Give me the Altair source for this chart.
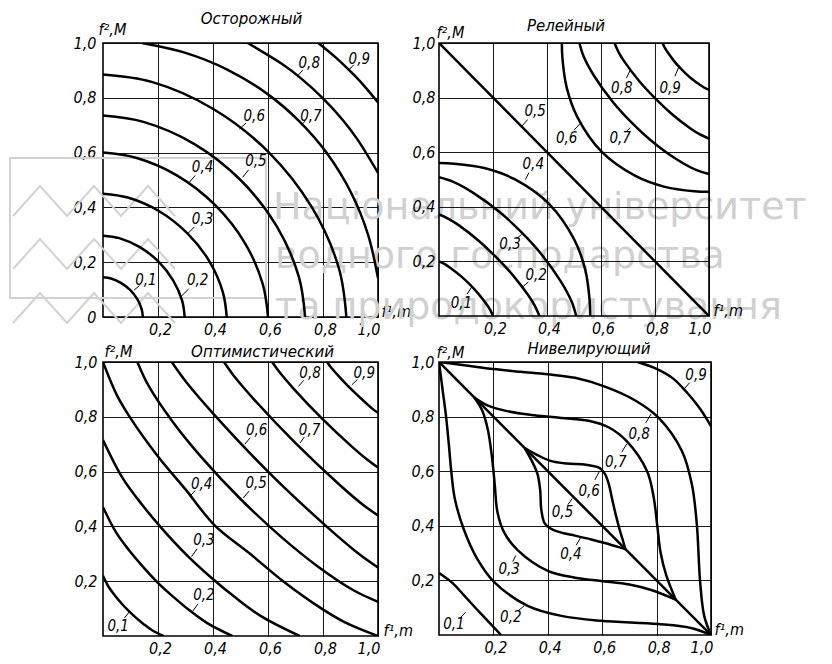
import altair as alt
import pandas as pd

FONT = "DejaVu Sans Condensed, DejaVu Sans"
TFONT = "DejaVu Sans"

TITLES = ["Осторожный", "Релейный", "Оптимистический", "Нивелирующий"]
X_TITLE = "f¹,m"
Y_TITLE = "f²,M"
TICKS = [0.2, 0.4, 0.6, 0.8, 1.0]
TICKS_FIRST = [0.0, 0.2, 0.4, 0.6, 0.8, 1.0]

# ---- curves: level -> list of (f1, f2) points ----
CAUTIOUS = {
    "0,1": [(0, 0.145), (0.029, 0.1405), (0.065, 0.1247), (0.0986, 0.0986), (0.1247, 0.065), (0.1405, 0.029), (0.145, 0)],
    "0,2": [(0, 0.297), (0.059, 0.288), (0.134, 0.255), (0.202, 0.202), (0.255, 0.134), (0.288, 0.059), (0.297, 0)],
    "0,3": [(0, 0.45), (0.09, 0.436), (0.203, 0.387), (0.306, 0.306), (0.387, 0.203), (0.436, 0.09), (0.45, 0)],
    "0,4": [(0, 0.6), (0.12, 0.581), (0.27, 0.516), (0.408, 0.408), (0.516, 0.27), (0.581, 0.12), (0.6, 0)],
    "0,5": [(0, 0.735), (0.147, 0.712), (0.331, 0.632), (0.5, 0.5), (0.632, 0.331), (0.712, 0.147), (0.735, 0)],
    "0,6": [(0, 0.885), (0.177, 0.858), (0.398, 0.761), (0.602, 0.602), (0.761, 0.398), (0.858, 0.177), (0.885, 0)],
    "0,7": [(0.142, 1.0), (0.3, 0.964), (0.45, 0.904), (0.6, 0.8125), (0.714, 0.714), (0.8125, 0.6), (0.904, 0.45), (0.964, 0.3), (1.0, 0.142)],
    "0,8": [(0.526, 1.0), (0.65, 0.924), (0.72, 0.871), (0.799, 0.799), (0.871, 0.72), (0.924, 0.65), (1.0, 0.526)],
    "0,9": [(0.783, 1.0), (0.85, 0.944), (0.898, 0.898), (0.944, 0.85), (1.0, 0.783)],
}
RELAY = {
    "0,1": [(0, 0.2), (0.02, 0.191), (0.04, 0.178), (0.08, 0.147), (0.115, 0.115), (0.147, 0.08), (0.178, 0.04), (0.191, 0.02), (0.2, 0)],
    "0,2": [(0, 0.372), (0.037, 0.355), (0.074, 0.332), (0.149, 0.274), (0.2135, 0.2135), (0.274, 0.149), (0.332, 0.074), (0.355, 0.037), (0.372, 0)],
    "0,3": [(0, 0.508), (0.051, 0.492), (0.127, 0.451), (0.229, 0.377), (0.306, 0.306), (0.377, 0.229), (0.451, 0.127), (0.492, 0.051), (0.508, 0)],
    "0,4": [(0, 0.56), (0.056, 0.558), (0.168, 0.542), (0.28, 0.501), (0.409, 0.409), (0.501, 0.28), (0.542, 0.168), (0.558, 0.056), (0.56, 0)],
    "0,5": [(0, 1.0), (1.0, 0)],
    "0,6": [(1.0, 0.455), (0.9455, 0.457), (0.8365, 0.473), (0.7275, 0.513), (0.602, 0.602), (0.513, 0.7275), (0.473, 0.8365), (0.457, 0.9455), (0.455, 1.0)],
    "0,7": [(1.0, 0.52), (0.952, 0.535), (0.88, 0.574), (0.784, 0.644), (0.711, 0.711), (0.644, 0.784), (0.574, 0.88), (0.535, 0.952), (0.52, 1.0)],
    "0,8": [(1.0, 0.65), (0.965, 0.666), (0.93, 0.688), (0.86, 0.742), (0.799, 0.799), (0.742, 0.86), (0.688, 0.93), (0.666, 0.965), (0.65, 1.0)],
    "0,9": [(1.0, 0.828), (0.983, 0.836), (0.966, 0.847), (0.931, 0.873), (0.901, 0.901), (0.873, 0.931), (0.847, 0.966), (0.836, 0.983), (0.828, 1.0)],
}
OPTIMISTIC = {
    "0,1": [(0, 0.22), (0.022, 0.177), (0.044, 0.147), (0.066, 0.1206), (0.0924, 0.0924), (0.1206, 0.066), (0.147, 0.044), (0.177, 0.022), (0.22, 0)],
    "0,2": [(0, 0.47), (0.047, 0.379), (0.094, 0.314), (0.141, 0.258), (0.197, 0.197), (0.258, 0.141), (0.314, 0.094), (0.379, 0.047), (0.47, 0)],
    "0,3": [(0, 0.715), (0.0715, 0.576), (0.143, 0.478), (0.2145, 0.392), (0.3, 0.3), (0.392, 0.2145), (0.478, 0.143), (0.576, 0.0715), (0.715, 0)],
    "0,4": [(0, 1.0), (0.05, 0.88), (0.1, 0.795), (0.2, 0.655), (0.3, 0.535), (0.405, 0.405), (0.535, 0.3), (0.655, 0.2), (0.795, 0.1), (0.88, 0.05), (1.0, 0)],
    "0,5": [(0.125, 1.0), (0.166, 0.9125), (0.254, 0.781), (0.36, 0.65), (0.5, 0.5), (0.65, 0.36), (0.781, 0.254), (0.9125, 0.166), (1.0, 0.125)],
    "0,6": [(0.25, 1.0), (0.304, 0.925), (0.4, 0.8125), (0.6, 0.6), (0.8125, 0.4), (0.925, 0.304), (1.0, 0.25)],
    "0,7": [(0.44, 1.0), (0.48, 0.944), (0.552, 0.86), (0.702, 0.702), (0.86, 0.552), (0.944, 0.48), (1.0, 0.44)],
    "0,8": [(0.615, 1.0), (0.643, 0.9615), (0.692, 0.904), (0.795, 0.795), (0.904, 0.692), (0.9615, 0.643), (1.0, 0.615)],
    "0,9": [(0.815, 1.0), (0.828, 0.9815), (0.852, 0.954), (0.9015, 0.9015), (0.954, 0.852), (0.9815, 0.828), (1.0, 0.815)],
}
LEVELLING = {
    "0,1": [(0, 0.227), (0.05, 0.19), (0.093, 0.144), (0.155, 0.077), (0.2, 0.03), (0.228, 0)],
    "0,2": [(0, 1.0), (0.013, 0.9), (0.026, 0.8), (0.036, 0.7), (0.045, 0.6), (0.058, 0.5), (0.09, 0.39), (0.14, 0.28), (0.204, 0.193), (0.326, 0.107), (0.45, 0.07), (0.596, 0.052), (0.805, 0.04), (0.93, 0.025), (1.0, 0)],
    "0,3": [(0.13, 0.87), (0.16, 0.82), (0.18, 0.75), (0.195, 0.65), (0.205, 0.55), (0.215, 0.45), (0.24, 0.375), (0.29, 0.31), (0.4, 0.235), (0.5, 0.21), (0.596, 0.198), (0.7, 0.185), (0.78, 0.165), (0.87, 0.13)],
    "0,4": [(0.315, 0.685), (0.34, 0.64), (0.362, 0.59), (0.372, 0.53), (0.376, 0.46), (0.388, 0.41), (0.41, 0.39), (0.45, 0.375), (0.5, 0.364), (0.56, 0.35), (0.61, 0.337), (0.65, 0.325), (0.685, 0.315)],
    "0,5": [(0, 1.0), (1.0, 0)],
    "0,6": [(0.315, 0.685), (0.36, 0.66), (0.41, 0.638), (0.47, 0.628), (0.54, 0.624), (0.59, 0.612), (0.61, 0.59), (0.625, 0.55), (0.636, 0.5), (0.65, 0.44), (0.663, 0.39), (0.675, 0.35), (0.685, 0.315)],
    "0,7": [(0.13, 0.87), (0.18, 0.84), (0.25, 0.82), (0.35, 0.805), (0.45, 0.795), (0.55, 0.785), (0.625, 0.76), (0.69, 0.71), (0.765, 0.6), (0.79, 0.5), (0.802, 0.404), (0.815, 0.3), (0.835, 0.22), (0.87, 0.13)],
    "0,8": [(0, 1.0), (0.1, 0.987), (0.2, 0.974), (0.3, 0.964), (0.4, 0.955), (0.5, 0.942), (0.61, 0.91), (0.72, 0.86), (0.807, 0.796), (0.893, 0.674), (0.93, 0.55), (0.948, 0.404), (0.96, 0.195), (0.975, 0.07), (1.0, 0)],
    "0,9": [(0.73, 1.0), (0.8, 0.975), (0.86, 0.94), (0.91, 0.89), (0.955, 0.835), (0.985, 0.79), (1.0, 0.765)],
}

# ---- curve labels: level -> (label centre, leader tip on the curve) ----
CAUTIOUS_LAB = {
    "0,1": ((0.156, 0.135), (0.113, 0.098)), "0,2": ((0.344, 0.135), (0.284, 0.075)),
    "0,3": ((0.362, 0.359), (0.308, 0.304)), "0,4": ((0.362, 0.547), (0.314, 0.492)),
    "0,5": ((0.556, 0.571), (0.508, 0.51)), "0,6": ((0.55, 0.735), (0.496, 0.686)),
    "0,7": ((0.756, 0.735), (0.72, 0.7)), "0,8": ((0.75, 0.928), (0.708, 0.88)),
    "0,9": ((0.932, 0.941), (0.896, 0.904)),
}
RELAY_LAB = {
    "0,1": ((0.083, 0.049), (0.121, 0.106)), "0,2": ((0.36, 0.15), (0.307, 0.104)),
    "0,3": ((0.263, 0.263), (0.306, 0.299)), "0,4": ((0.349, 0.556), (0.32, 0.5)),
    "0,5": ((0.356, 0.751), (0.306, 0.694)), "0,6": ((0.473, 0.653), (0.523, 0.705)),
    "0,7": ((0.671, 0.653), (0.708, 0.69)), "0,8": ((0.677, 0.836), (0.708, 0.9)),
    "0,9": ((0.856, 0.836), (0.888, 0.912)),
}
OPTIMISTIC_LAB = {
    "0,1": ((0.055, 0.036), (0.097, 0.09)), "0,2": ((0.367, 0.148), (0.326, 0.09)),
    "0,3": ((0.367, 0.352), (0.322, 0.29)), "0,4": ((0.359, 0.556), (0.316, 0.51)),
    "0,5": ((0.557, 0.559), (0.51, 0.504)), "0,6": ((0.559, 0.753), (0.516, 0.7)),
    "0,7": ((0.751, 0.753), (0.717, 0.705)), "0,8": ((0.753, 0.96), (0.711, 0.911)),
    "0,9": ((0.95, 0.96), (0.905, 0.917)),
}
LEVELLING_LAB = {
    "0,1": ((0.055, 0.04), (0.098, 0.083)), "0,2": ((0.264, 0.065), (0.313, 0.107)),
    "0,3": ((0.258, 0.242), (0.282, 0.291)), "0,4": ((0.485, 0.297), (0.52, 0.355)),
    "0,5": ((0.454, 0.45), (0.49, 0.5)), "0,6": ((0.552, 0.529), (0.59, 0.6)),
    "0,7": ((0.65, 0.633), (0.69, 0.7)), "0,8": ((0.736, 0.737), (0.78, 0.81)),
    "0,9": ((0.945, 0.951), (0.902, 0.902)),
}

# ---- watermark (page pixels) ----
WM_TEXT = ["Національний університет", "водного господарства", "та природокористування"]
WM_TEXT_X = [272, 274, 274]
WM_TEXT_Y = [218, 267, 318]
WM_BOX = (9, 157, 265, 297)
WM_ZIG_X = [12, 39, 66, 93, 120, 147, 174]
WM_ZIG_BASE = [215, 268, 322]

LE = "datum.value == 0 ? '0' : replace(format(datum.value, '.1f'), '.', ',')"


def sc():
    return alt.Scale(domain=[0, 1], nice=False, zero=False)


def watermark_layers(w, h, left_px, top_px, xaxis, yaxis):
    def cx(px):
        return (px - left_px) / w

    def cy(py):
        return (top_px + h - py) / h

    tdf = pd.DataFrame({"t": WM_TEXT, "x": [cx(v) for v in WM_TEXT_X], "y": [cy(v) for v in WM_TEXT_Y]})
    text = alt.Chart(tdf).mark_text(font=TFONT, fontSize=38, align="left", baseline="alphabetic",
                                    color="#d0d0d0").encode(
        x=alt.X("x:Q", scale=sc(), axis=xaxis), y=alt.Y("y:Q", scale=sc(), axis=yaxis), text="t:N")
    x0, y0, x1, y1 = WM_BOX
    bdf = pd.DataFrame({"x": [cx(x0)], "x2": [cx(x1)], "y": [cy(y0)], "y2": [cy(y1)]})
    box = alt.Chart(bdf).mark_rect(fillOpacity=0, stroke="#d2d2d2", strokeWidth=2).encode(
        x=alt.X("x:Q", scale=sc(), axis=xaxis), x2="x2:Q",
        y=alt.Y("y:Q", scale=sc(), axis=yaxis), y2="y2:Q")
    rows = []
    for r, base in enumerate(WM_ZIG_BASE):
        for i, px in enumerate(WM_ZIG_X):
            py = base if i % 2 == 0 else base - 30
            rows.append({"r": r, "i": i, "x": cx(px), "y": cy(py)})
    zig = alt.Chart(pd.DataFrame(rows)).mark_line(color="#d2d2d2", strokeWidth=2).encode(
        x=alt.X("x:Q", scale=sc(), axis=xaxis), y=alt.Y("y:Q", scale=sc(), axis=yaxis),
        detail="r:N", order="i:Q")
    return [box, zig, text]


def panel(curves, labels, title, w, h, yvals, t_off, t_dx, x_tx, y_tx, y_ty, lab_pad, wm=False):
    rows = [{"c": k, "i": i, "x": p[0], "y": p[1]} for k, pts in curves.items() for i, p in enumerate(pts)]
    cdf = pd.DataFrame(rows)
    ldf = pd.DataFrame([{"t": k, "x": a[0], "y": a[1]} for k, (a, b) in labels.items()])
    lead = pd.DataFrame([{"x": a[0] + 0.55 * (b[0] - a[0]), "y": a[1] + 0.55 * (b[1] - a[1]),
                          "x2": b[0], "y2": b[1]} for k, (a, b) in labels.items()])
    xaxis = alt.Axis(values=TICKS, labelExpr=LE, title=X_TITLE, titleAngle=0, titleAlign="left",
                     titleBaseline="alphabetic", titleX=w + x_tx, titleY=-1, labelPadding=4,
                     labelOffset=2)
    yaxis = alt.Axis(values=yvals, labelExpr=LE, title=Y_TITLE, titleAngle=0, titleAlign="left",
                     titleBaseline="alphabetic", titleX=y_tx, titleY=y_ty, labelPadding=lab_pad,
                     labelBaseline="middle")
    X = alt.X("x:Q", scale=sc(), axis=xaxis)
    Y = alt.Y("y:Q", scale=sc(), axis=yaxis)
    lines = alt.Chart(cdf).mark_line(color="black", strokeWidth=2.5, interpolate="catmull-rom",
                                     clip=True).encode(x=X, y=Y, detail="c:N", order="i:Q")
    leads = alt.Chart(lead).mark_rule(color="black", strokeWidth=1).encode(
        x=X, y=Y, x2="x2:Q", y2="y2:Q")
    texts = alt.Chart(ldf).mark_text(font=FONT, fontStyle="italic", fontSize=15, color="black").encode(
        x=X, y=Y, text="t:N")
    ttl = alt.Chart(pd.DataFrame({"t": [TITLES[title]], "x": [0.5], "y": [1.0]})).mark_text(
        font=TFONT, fontStyle="italic", fontSize=15, color="black", baseline="alphabetic",
        dx=t_dx, dy=-t_off).encode(x=X, y=Y, text="t:N")
    extra = watermark_layers(w, h, 102, 42, xaxis, yaxis) if wm else []
    layers = extra + [lines, leads, texts, ttl]
    return alt.layer(*layers).properties(width=w, height=h)


p1 = panel(CAUTIOUS, CAUTIOUS_LAB, 0, 275, 274, TICKS_FIRST, 19, 11, 3, -5, -9, 7, wm=True)
p2 = panel(RELAY, RELAY_LAB, 1, 270, 273, TICKS, 12, -8, 4, -3, -6, 4)
p3 = panel(OPTIMISTIC, OPTIMISTIC_LAB, 2, 275, 274, TICKS, 5, 22, 5, 1, -6, 6)
p4 = panel(LEVELLING, LEVELLING_LAB, 3, 272, 273, TICKS, 8, 14, 3, -3, -5, 5)

chart = alt.concat(p1, p2, p3, p4, columns=2, spacing={"row": 45, "column": 61},
                   bounds="flush").properties(
    padding={"left": 0, "top": 3, "right": 4, "bottom": 2}
).configure_axis(
    labelFont=FONT, labelFontStyle="italic", labelFontSize=16, labelColor="black",
    grid=True, gridColor="black", gridWidth=0.9, gridOpacity=1,
    domain=False, ticks=False, tickSize=0,
    titleFont=FONT, titleFontStyle="italic", titleFontSize=16, titleFontWeight="normal",
    titleColor="black",
).configure_view(stroke="black", strokeWidth=1.6)

chart.save("out.html", embed_options={"renderer": "svg", "actions": False})
